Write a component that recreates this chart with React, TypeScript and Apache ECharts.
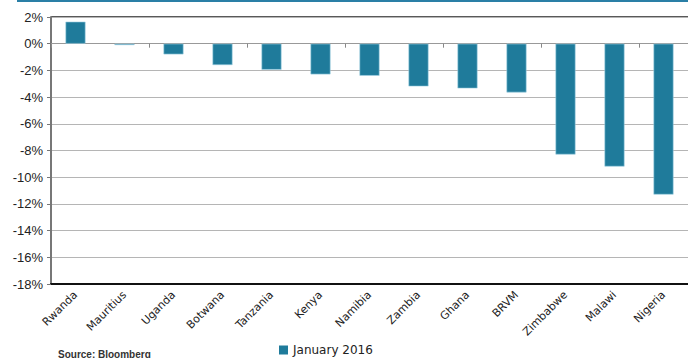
import React, { useEffect, useRef } from "react";
import * as echarts from "echarts";

const categories = ["Rwanda", "Mauritius", "Uganda", "Botwana", "Tanzania", "Kenya", "Namibia", "Zambia", "Ghana", "BRVM", "Zimbabwe", "Malawi", "Nigeria"];
const values = [1.65, -0.1, -0.8, -1.6, -1.95, -2.3, -2.4, -3.2, -3.35, -3.65, -8.3, -9.2, -11.3];
const seriesName = "January 2016";
const sourceText = "Source: Bloomberg";

export default function App() {
  const ref = useRef<HTMLDivElement>(null);
  useEffect(() => {
    const chart = echarts.init(ref.current!, null, { renderer: "svg" });
    chart.setOption({
      animation: false,
      grid: { left: 51, right: 0, top: 17, bottom: 74, containLabel: false },
      legend: {
        data: [seriesName],
        left: 274,
        top: 339,
        icon: "rect",
        itemWidth: 9,
        itemHeight: 9,
        itemGap: 5,
        itemStyle: { borderWidth: 0 },
        textStyle: { fontFamily: "DejaVu Sans", fontSize: 12, color: "#222" },
      },
      xAxis: [
        {
          type: "category",
          data: categories,
          axisLine: { onZero: true, lineStyle: { color: "#999", width: 1 } },
          axisTick: { show: true, length: 4, lineStyle: { color: "#888" } },
          axisLabel: { show: false },
        },
        {
          type: "category",
          data: categories,
          position: "bottom",
          axisLine: { onZero: false, lineStyle: { color: "#111", width: 2 } },
          axisTick: { show: false },
          axisLabel: {
            rotate: 45,
            margin: 9,
            fontFamily: "DejaVu Sans",
            fontSize: 11,
            color: "#222",
            interval: 0,
          },
        },
      ],
      yAxis: {
        type: "value",
        min: -18,
        max: 2,
        interval: 2,
        axisLine: { show: true, lineStyle: { color: "#777", width: 2 } },
        axisTick: { show: true, length: 4, lineStyle: { color: "#777" } },
        axisLabel: {
          formatter: "{value}%",
          fontFamily: "Liberation Sans",
          fontSize: 13,
          color: "#222",
          margin: 8,
        },
        splitLine: { show: true, lineStyle: { color: "#b5b5b5", width: 1 } },
      },
      graphic: [
        { type: "line", shape: { x1: 17, y1: 1, x2: 688, y2: 1 }, style: { stroke: "#2a7fa6", lineWidth: 2 } },
        { type: "line", shape: { x1: 51, y1: 17, x2: 688, y2: 17 }, style: { stroke: "#222", lineWidth: 1.5 } },
        {
          type: "text",
          left: 58,
          top: 349,
          style: { text: sourceText, fontFamily: "Liberation Sans", fontSize: 10, fontWeight: "bold", fill: "#333" },
        },
      ],
      series: [
        {
          name: seriesName,
          type: "bar",
          data: values,
          xAxisIndex: 0,
          barWidth: 20,
          itemStyle: { color: "#1f7b9b", borderColor: "#9fd0e2", borderWidth: 0.6 },
        },
      ],
    });
    return () => chart.dispose();
  }, []);
  return <div ref={ref} style={{ width: 688, height: 358, position: "absolute", left: 0, top: 0 }} />;
}
